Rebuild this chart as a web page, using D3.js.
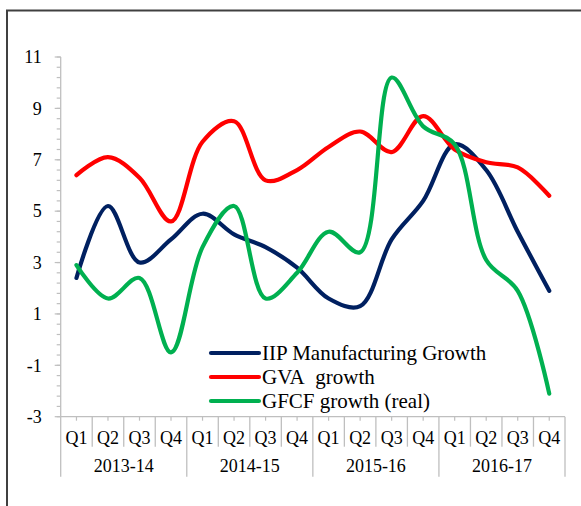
<!DOCTYPE html>
<html>
<head>
<meta charset="utf-8">
<script src="https://cdn.jsdelivr.net/npm/d3@7"></script>
<style>
  body { margin: 0; background: #fff; }
  text { font-family: "Liberation Serif", "Times New Roman", serif; fill: #000; }
</style>
</head>
<body>
<svg id="chart" width="581" height="506"></svg>
<script>
const years = ["2013-14", "2014-15", "2015-16", "2016-17"];
const quarters = ["Q1", "Q2", "Q3", "Q4"];

const iip  = [2.4, 5.2, 3.0, 3.9, 4.9, 4.1, 3.6, 2.8, 1.6, 1.3, 3.9, 5.4, 7.6, 6.6, 4.2, 1.9];
const gva  = [6.4, 7.1, 6.3, 4.6, 7.7, 8.5, 6.2, 6.6, 7.5, 8.1, 7.3, 8.7, 7.4, 6.9, 6.7, 5.6];
const gfcf = [2.9, 1.6, 2.4, -0.5, 3.6, 5.2, 1.6, 2.6, 4.2, 3.4, 10.2, 8.3, 7.6, 3.1, 1.9, -2.1];

const yTicks = [-3, -1, 1, 3, 5, 7, 9, 11];

const series = [
  { name: "IIP Manufacturing Growth", values: iip, color: "#002060" },
  { name: "GVA\u00a0 growth", values: gva, color: "#ff0000" },
  { name: "GFCF growth (real)", values: gfcf, color: "#00b050" }
];

const svg = d3.select("#chart");
const plotLeft = 60.7, plotRight = 565, plotTop = 57, plotBottom = 416.7;

// outer chart border (only top and left visible)
svg.append("path")
  .attr("d", "M7,506V10.5H581")
  .attr("fill", "none")
  .attr("stroke", "#404040")
  .attr("stroke-width", 2);

const cats = [];
years.forEach(yr => quarters.forEach(q => cats.push(yr + " " + q)));

const x = d3.scaleBand().domain(cats).range([plotLeft, plotRight]);
const y = d3.scaleLinear().domain([-3, 11]).range([plotBottom, plotTop]);

const axisColor = "#bfbfbf";

// y axis
svg.append("line")
  .attr("x1", plotLeft).attr("x2", plotLeft)
  .attr("y1", plotTop).attr("y2", plotBottom)
  .attr("stroke", axisColor).attr("stroke-width", 1.3);

const minor = d3.range(-3, 11.001, 0.4);
svg.selectAll(".minor")
  .data(minor)
  .join("line")
  .attr("x1", plotLeft - 4).attr("x2", plotLeft)
  .attr("y1", d => y(d)).attr("y2", d => y(d))
  .attr("stroke", axisColor).attr("stroke-width", 1.2);

svg.selectAll(".major")
  .data(yTicks)
  .join("line")
  .attr("x1", plotLeft - 6).attr("x2", plotLeft)
  .attr("y1", d => y(d)).attr("y2", d => y(d))
  .attr("stroke", axisColor).attr("stroke-width", 1.2);

svg.selectAll(".ylab")
  .data(yTicks)
  .join("text")
  .attr("x", plotLeft - 19)
  .attr("y", d => y(d))
  .attr("dy", "0.35em")
  .attr("text-anchor", "end")
  .attr("font-size", 18)
  .text(d => d);

// x axis
svg.append("line")
  .attr("x1", plotLeft).attr("x2", plotRight)
  .attr("y1", plotBottom).attr("y2", plotBottom)
  .attr("stroke", axisColor).attr("stroke-width", 1.3);

// small ticks at category centres
svg.selectAll(".ctick")
  .data(cats)
  .join("line")
  .attr("x1", d => x(d) + x.bandwidth() / 2).attr("x2", d => x(d) + x.bandwidth() / 2)
  .attr("y1", plotBottom).attr("y2", plotBottom + 4)
  .attr("stroke", axisColor).attr("stroke-width", 1.2);

// quarter separators, longer ones between years
const bounds = cats.map(c => x(c)).concat([plotRight]);
svg.selectAll(".qsep")
  .data(bounds)
  .join("line")
  .attr("x1", d => d).attr("x2", d => d)
  .attr("y1", plotBottom)
  .attr("y2", (d, i) => i % 4 === 0 ? plotBottom + 60 : plotBottom + 30)
  .attr("stroke", axisColor).attr("stroke-width", 1.3);

svg.selectAll(".qlab")
  .data(cats)
  .join("text")
  .attr("x", d => x(d) + x.bandwidth() / 2)
  .attr("y", 438)
  .attr("dy", "0.35em")
  .attr("text-anchor", "middle")
  .attr("font-size", 18)
  .text((d, i) => quarters[i % 4]);

svg.selectAll(".yrlab")
  .data(years)
  .join("text")
  .attr("x", d => (x(d + " Q1") + x(d + " Q4") + x.bandwidth()) / 2)
  .attr("y", 466)
  .attr("dy", "0.35em")
  .attr("text-anchor", "middle")
  .attr("font-size", 18)
  .text(d => d);

// smoothed lines
const line = d3.line()
  .x((d, i) => x(cats[i]) + x.bandwidth() / 2)
  .y(d => y(d))
  .curve(d3.curveCatmullRom.alpha(0.5));

series.forEach(s => {
  svg.append("path")
    .attr("d", line(s.values))
    .attr("fill", "none")
    .attr("stroke", s.color)
    .attr("stroke-width", 4.2)
    .attr("stroke-linecap", "round")
    .attr("stroke-linejoin", "round");
});

// legend
const legend = svg.append("g");
series.forEach((s, i) => {
  const ly = 353 + i * 24;
  legend.append("line")
    .attr("x1", 211).attr("x2", 259)
    .attr("y1", ly).attr("y2", ly)
    .attr("stroke", s.color)
    .attr("stroke-width", 4.2)
    .attr("stroke-linecap", "round");
  legend.append("text")
    .attr("x", 262)
    .attr("y", ly)
    .attr("dy", "0.35em")
    .attr("font-size", 21)
    .text(s.name);
});
</script>
</body>
</html>
